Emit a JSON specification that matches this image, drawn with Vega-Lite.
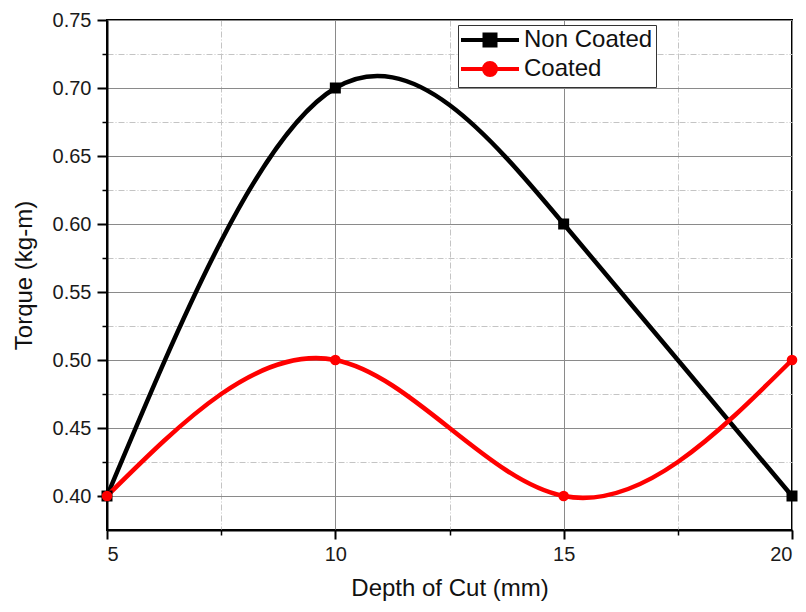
{
  "$schema": "https://vega.github.io/schema/vega-lite/v6.json",
  "width": 685,
  "height": 510,
  "autosize": {"type": "none"},
  "padding": {"left": 107, "top": 20, "right": 14, "bottom": 82},
  "background": "white",
  "config": {
    "font": "Liberation Sans",
    "view": {"stroke": "black", "strokeWidth": 2},
    "axis": {"labelFont": "Liberation Sans", "titleFont": "Liberation Sans", "labelColor": "#1a1a1a", "titleColor": "#111", "titleFontWeight": "normal"}
  },
  "data": {
    "values": [
      {"depth": 5, "torque": 0.40, "series": "Non Coated"},
      {"depth": 10, "torque": 0.70, "series": "Non Coated"},
      {"depth": 15, "torque": 0.60, "series": "Non Coated"},
      {"depth": 20, "torque": 0.40, "series": "Non Coated"},
      {"depth": 5, "torque": 0.40, "series": "Coated"},
      {"depth": 10, "torque": 0.50, "series": "Coated"},
      {"depth": 15, "torque": 0.40, "series": "Coated"},
      {"depth": 20, "torque": 0.50, "series": "Coated"}
    ]
  },
  "layer": [
    {
      "mark": {"type": "point", "filled": true, "opacity": 0},
      "encoding": {
        "x": {"field": "depth", "type": "quantitative", "scale": {"domain": [5, 20], "nice": false, "zero": false},
          "axis": {"orient": "bottom", "values": [7.5, 12.5, 17.5], "labels": false, "title": null, "domain": false, "ticks": true, "tickSize": 5, "tickColor": "black", "tickWidth": 1.5, "grid": true, "gridColor": "#c4c4c4", "gridWidth": 1, "gridDash": [6, 2, 1, 2]}},
        "y": {"field": "torque", "type": "quantitative", "scale": {"domain": [0.375, 0.75], "nice": false, "zero": false},
          "axis": {"orient": "left", "values": [0.425, 0.475, 0.525, 0.575, 0.625, 0.675, 0.725], "labels": false, "title": null, "domain": false, "ticks": true, "tickSize": 5, "tickColor": "black", "tickWidth": 1.5, "grid": true, "gridColor": "#c4c4c4", "gridWidth": 1, "gridDash": [6, 2, 1, 2]}},
        "shape": {"field": "series", "type": "nominal",
          "scale": {"domain": ["Non Coated", "Coated"], "range": ["M-1.2,0H4.6M1.15,-0.55H2.25V0.55H1.15Z", "M-1.2,0H4.6M1.1,0A0.6,0.6,0,1,0,2.3,0A0.6,0.6,0,1,0,1.1,0Z"]},
          "legend": {
            "title": null, "orient": "none", "legendX": 351, "legendY": 5,
            "direction": "vertical",
            "symbolSize": 400, "symbolStrokeWidth": 4,
            "labelFont": "Liberation Sans", "labelFontSize": 24, "labelColor": "#111", "labelOffset": 39,
            "rowPadding": 0, "padding": 3,
            "strokeColor": "#333", "fillColor": "white",
            "encode": {
              "symbols": {"update": {"fill": {"scale": "color", "field": "value"}, "stroke": {"scale": "color", "field": "value"}, "strokeWidth": {"value": 4}, "opacity": {"value": 1}}}
            }
          }
        }
      }
    },
    {
      "mark": {"type": "line", "interpolate": "natural", "strokeWidth": 4.5},
      "encoding": {
        "x": {"field": "depth", "type": "quantitative",
          "axis": {"orient": "bottom", "values": [5, 10, 15, 20], "title": "Depth of Cut (mm)", "titleFontSize": 24, "titlePadding": 12, "labelFontSize": 20, "labelPadding": 5, "tickSize": 9, "tickWidth": 2, "tickColor": "black", "domainColor": "black", "domainWidth": 2, "grid": true, "gridColor": "#8a8a8a", "gridWidth": 1}},
        "y": {"field": "torque", "type": "quantitative",
          "axis": {"orient": "left", "values": [0.40, 0.45, 0.50, 0.55, 0.60, 0.65, 0.70, 0.75], "format": ".2f", "title": "Torque (kg-m)", "titleFontSize": 24, "titlePadding": 16, "labelFontSize": 20, "labelPadding": 6, "tickSize": 10, "tickWidth": 2, "tickColor": "black", "domainColor": "black", "domainWidth": 2, "grid": true, "gridColor": "#8a8a8a", "gridWidth": 1}},
        "color": {"field": "series", "type": "nominal", "scale": {"domain": ["Non Coated", "Coated"], "range": ["#000000", "#ff0000"]}, "legend": null},
        "detail": {"field": "series"}
      }
    },
    {
      "transform": [{"filter": "datum.series == 'Non Coated'"}],
      "mark": {"type": "point", "shape": "square", "filled": true, "size": 121, "opacity": 1},
      "encoding": {
        "x": {"field": "depth", "type": "quantitative", "axis": null},
        "y": {"field": "torque", "type": "quantitative", "axis": null},
        "color": {"field": "series", "type": "nominal", "legend": null}
      }
    },
    {
      "transform": [{"filter": "datum.series == 'Coated'"}],
      "mark": {"type": "point", "shape": "circle", "filled": true, "size": 113, "opacity": 1},
      "encoding": {
        "x": {"field": "depth", "type": "quantitative", "axis": null},
        "y": {"field": "torque", "type": "quantitative", "axis": null},
        "color": {"field": "series", "type": "nominal", "legend": null}
      }
    }
  ],
  "resolve": {"axis": {"x": "independent", "y": "independent"}}
}
